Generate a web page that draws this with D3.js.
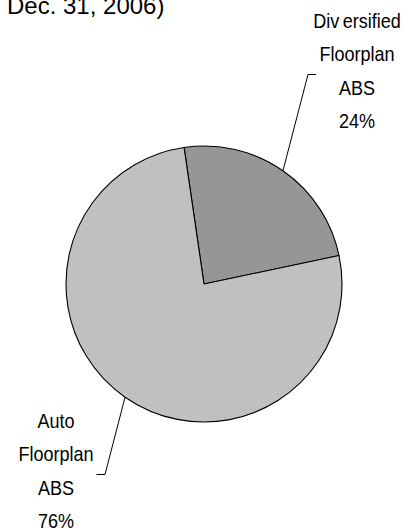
<!DOCTYPE html>
<html>
<head>
<meta charset="utf-8">
<script src="https://cdn.jsdelivr.net/npm/d3@7/dist/d3.min.js"></script>
<style>
  html, body { margin: 0; padding: 0; background: #fff; }
  svg { display: block; }
</style>
</head>
<body>
<svg id="chart" width="408" height="531"></svg>
<script>
// Portfolio mix (as of Dec. 31, 2006)
const categories = ["Diversified Floorplan ABS", "Auto Floorplan ABS"];
const values = [24, 76];
const labelLines = [
  [["Div", "ersified"], ["Floorplan"], ["ABS"], ["24%"]],
  [["Auto"], ["Floorplan"], ["ABS"], ["76%"]]
];
const colors = ["#969696", "#c0c0c0"];

const svg = d3.select("#chart");
const W = 408, H = 531;
const cx = 204, cy = 284, R = 138;
const startRot = -0.145; // first slice begins just left of 12 o'clock

// Title (second line visible at the top edge)
svg.append("text")
  .attr("x", 7).attr("y", 13.5)
  .attr("font-family", "'Liberation Sans', Arial, sans-serif")
  .attr("font-size", 24)
  .attr("fill", "#000")
  .text("Dec. 31, 2006)");

const pie = d3.pie()
  .sort(null)
  .value(d => d)
  .startAngle(startRot)
  .endAngle(startRot + 2 * Math.PI);

const arcs = pie(values);
const arc = d3.arc().innerRadius(0).outerRadius(R);

const g = svg.append("g").attr("transform", `translate(${cx},${cy})`);

g.selectAll("path.slice")
  .data(arcs)
  .join("path")
  .attr("class", "slice")
  .attr("d", arc)
  .attr("fill", (d, i) => colors[i])
  .attr("stroke", "#000")
  .attr("stroke-width", 1.1)
  .attr("stroke-linejoin", "round");

// Label blocks: centre x, first baseline, line step, leader elbow
const labelLayout = [
  { x: 357, y0: 28, step: 33.3, elbowX: 308, endX: 316, leaderY: 74.5 },
  { x: 56, y0: 428, step: 33.3, elbowX: 105, endX: 96.5, leaderY: 474.5 }
];

arcs.forEach((d, i) => {
  const L = labelLayout[i];
  const mid = (d.startAngle + d.endAngle) / 2;
  const px = cx + R * Math.sin(mid);
  const py = cy - R * Math.cos(mid);

  svg.append("path")
    .attr("d", d3.line()([[px, py], [L.elbowX, L.leaderY], [L.endX, L.leaderY]]))
    .attr("fill", "none")
    .attr("stroke", "#000")
    .attr("stroke-width", 1);

  labelLines[i].forEach((parts, j) => {
    const t = svg.append("text")
      .attr("transform", `translate(${L.x},${L.y0 + j * L.step}) scale(0.88,1)`)
      .attr("text-anchor", "middle")
      .attr("font-family", "'Liberation Sans', Arial, sans-serif")
      .attr("font-size", 20.5)
      .attr("fill", "#000");
    parts.forEach((p, k) => {
      t.append("tspan").attr("dx", k > 0 ? 4 : 0).text(p);
    });
  });
});
</script>
</body>
</html>
